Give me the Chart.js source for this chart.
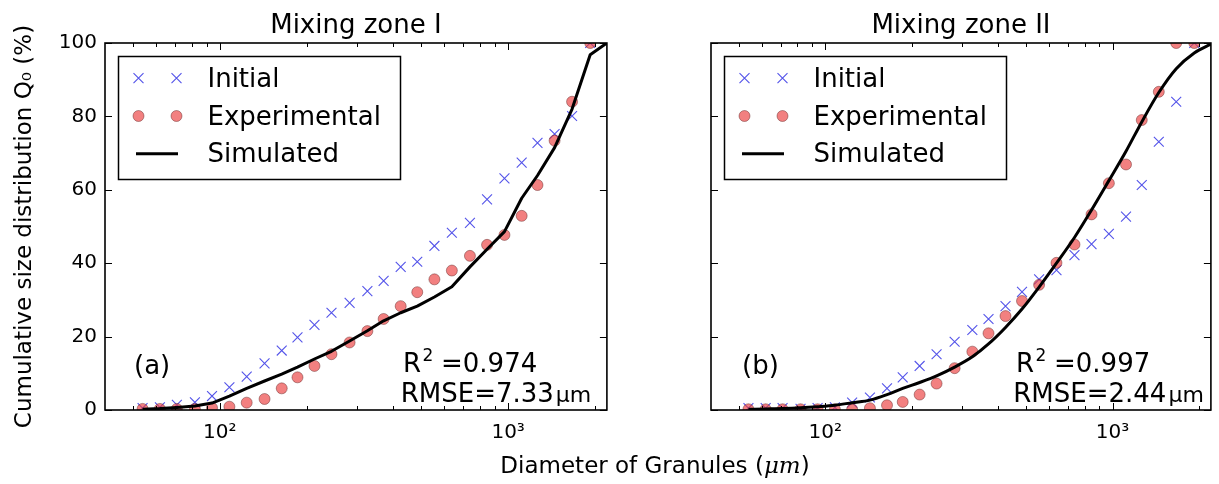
<!DOCTYPE html>
<html>
<head>
<meta charset="utf-8">
<script src="https://cdn.jsdelivr.net/npm/chart.js@4.4.1/dist/chart.umd.min.js"></script>
<style>
  html, body { margin: 0; padding: 0; background: #fff; }
  #wrap { position: relative; width: 1219px; height: 484px; overflow: hidden; background: #fff; }
  canvas { position: absolute; top: 0; }
  #c1 { left: 0; }
  #c2 { left: 606px; }
  #xtitle { position: absolute; left: 405px; width: 500px; top: 451px; text-align: center;
            font-family: "DejaVu Sans"; font-size: 23px; line-height: 28px; color: #000; }
  #xtitle i { font-family: "DejaVu Serif"; font-style: italic; }
</style>
</head>
<body>
<div id="wrap">
  <canvas id="c1" width="615" height="484"></canvas>
  <canvas id="c2" width="613" height="484"></canvas>
  <div id="xtitle">Diameter of Granules (<i>μm</i>)</div>
</div>
<script>
// ---------------- data ----------------
const diameters = [54, 62, 71, 82, 94, 108, 124, 143, 164, 186, 213, 244, 282, 325, 370, 424, 484, 555, 638, 737, 845, 971, 1114, 1264, 1449, 1666, 1925];
const simDiameters = [54, 62, 71, 82, 94, 108, 124, 143, 164, 186, 213, 244, 282, 325, 370, 424, 484, 555, 638, 737, 845, 971, 1114, 1264, 1449, 1666, 1925, 2200];

const zone1Initial      = [0.5, 0.7, 1.4, 2.1, 3.8, 6.2, 9.1, 12.7, 16.2, 19.8, 23.2, 26.5, 29.2, 32.4, 35.2, 39.0, 40.4, 44.7, 48.3, 51.0, 57.4, 63.1, 67.4, 72.8, 75.2, 80.1, 100];
const zone1Experimental = [0.3, 0.3, 0.3, 0.3, 0.6, 0.9, 2.0, 3.0, 5.9, 8.9, 12.0, 15.2, 18.4, 21.5, 24.8, 28.3, 32.1, 35.6, 38.0, 42.0, 45.0, 47.7, 52.9, 61.3, 73.4, 84.0, 100];
const zone1Simulated    = [0.2, 0.4, 0.7, 1.1, 1.9, 3.8, 5.9, 7.9, 9.8, 11.7, 13.9, 16.0, 18.8, 21.6, 24.3, 26.5, 28.3, 30.8, 33.6, 39.0, 43.8, 48.6, 57.7, 63.9, 71.5, 82.0, 96.8, 100];

const zone2Initial      = [0.5, 0.5, 0.5, 0.3, 0.5, 0.7, 2.0, 3.4, 5.9, 8.9, 12.0, 15.2, 18.6, 21.8, 24.8, 28.3, 32.2, 35.6, 38.1, 42.2, 45.2, 48.0, 52.7, 61.3, 73.1, 84.0, 100];
const zone2Experimental = [0.2, 0.2, 0.2, 0.2, 0.2, 0.2, 0.2, 0.5, 1.3, 2.2, 4.2, 7.2, 11.4, 15.9, 20.9, 25.6, 29.7, 34.1, 40.1, 45.1, 53.3, 61.8, 66.9, 79.0, 86.7, 100, 100];
const zone2Simulated    = [0.2, 0.3, 0.4, 0.6, 0.9, 1.3, 2.0, 2.7, 4.2, 5.9, 7.5, 9.3, 11.7, 14.5, 18.0, 22.5, 27.5, 33.5, 40.0, 47.0, 54.5, 62.5, 70.5, 78.5, 86.5, 93.0, 97.3, 99.7];

const xTickValues = [40, 50, 60, 70, 80, 90, 100, 200, 300, 400, 500, 600, 700, 800, 900, 1000, 2000];
const xMajorValues = [100, 1000];
const xMajorLabels = ['10²', '10³'];
const yTickValues = [0, 20, 40, 60, 80, 100];

const panelTitles = ['Mixing zone I', 'Mixing zone II'];
const panelTags = ['(a)', '(b)'];
const panelR2 = ['0.974', '0.997'];
const panelRMSE = ['7.33', '2.44'];
const legendLabels = ['Initial', 'Experimental', 'Simulated'];
const yTitle = 'Cumulative size distribution Q₀ (%)';

// ---------------- styles ----------------
const FONT = 'DejaVu Sans';
Chart.defaults.font.family = FONT;
const initColor = 'rgba(25,25,225,0.75)';
const expFill = 'rgba(235,60,60,0.65)';
const expEdge = 'rgba(90,30,30,0.55)';

function decorPlugin(idx, ann) {
  return {
    id: 'panelDecor' + idx,
    afterDatasetsDraw(chart) {
      const ctx = chart.ctx, a = chart.chartArea;
      const xs = chart.scales.x, ys = chart.scales.y;
      ctx.save();
      // inward tick marks
      ctx.strokeStyle = '#000';
      ctx.lineWidth = 1;
      ctx.beginPath();
      xs.ticks.forEach(t => {
        const px = Math.round(xs.getPixelForValue(t.value)) + 0.5;
        if (px <= a.left + 1 || px >= a.right - 1) return;
        const len = xMajorValues.includes(t.value) ? 7 : 4;
        ctx.moveTo(px, a.bottom); ctx.lineTo(px, a.bottom - len);
        ctx.moveTo(px, a.top); ctx.lineTo(px, a.top + len);
      });
      ys.ticks.forEach(t => {
        const py = Math.round(ys.getPixelForValue(t.value)) + 0.5;
        ctx.moveTo(a.left, py); ctx.lineTo(a.left + 7, py);
        ctx.moveTo(a.right, py); ctx.lineTo(a.right - 7, py);
      });
      ctx.stroke();
      // frame
      ctx.lineWidth = 1.6;
      ctx.strokeRect(a.left, a.top, a.right - a.left, a.bottom - a.top);
      // title
      ctx.fillStyle = '#000';
      ctx.font = '26px "' + FONT + '"';
      ctx.textAlign = 'center';
      ctx.textBaseline = 'alphabetic';
      ctx.fillText(panelTitles[idx], (a.left + a.right) / 2, 33);
      // legend
      const bx = a.left + 13.5, by = a.top + 13.5, bw = 282, bh = 123;
      ctx.fillStyle = '#fff';
      ctx.fillRect(bx, by, bw, bh);
      ctx.lineWidth = 1.5;
      ctx.strokeStyle = '#000';
      ctx.strokeRect(bx, by, bw, bh);
      const rows = [a.top + 43.7, a.top + 81.5, a.top + 119.3];
      const mx = [a.left + 33.5, a.left + 71.5];
      // initial markers
      ctx.strokeStyle = initColor; ctx.lineWidth = 1.1;
      mx.forEach(x => {
        const y = rows[0] - 8.5, h = 5;
        ctx.beginPath();
        ctx.moveTo(x - h, y - h); ctx.lineTo(x + h, y + h);
        ctx.moveTo(x - h, y + h); ctx.lineTo(x + h, y - h);
        ctx.stroke();
      });
      // experimental markers
      mx.forEach(x => {
        ctx.beginPath();
        ctx.arc(x, rows[1] - 8.5, 5.5, 0, Math.PI * 2);
        ctx.fillStyle = expFill; ctx.fill();
        ctx.strokeStyle = expEdge; ctx.lineWidth = 0.8; ctx.stroke();
      });
      // simulated line
      ctx.beginPath();
      ctx.strokeStyle = '#000'; ctx.lineWidth = 3;
      ctx.moveTo(a.left + 31, rows[2] - 8.5); ctx.lineTo(a.left + 73, rows[2] - 8.5);
      ctx.stroke();
      ctx.fillStyle = '#000';
      ctx.textAlign = 'left';
      ctx.font = '26px "' + FONT + '"';
      legendLabels.forEach((t, i) => ctx.fillText(t, a.left + 102.5, rows[i]));
      // annotations
      ctx.fillText(panelTags[idx], a.left + ann.tagX, a.top + 331);
      const rx = a.left + ann.rX, rb = a.top + 329;
      ctx.fillText('R', rx, rb);
      const rw = ctx.measureText('R').width;
      ctx.font = '17px "' + FONT + '"';
      ctx.fillText('2', rx + rw + 1.5, rb - 11);
      ctx.font = '26px "' + FONT + '"';
      ctx.fillText('=' + panelR2[idx], rx + 38, rb);
      const mxs = a.left + ann.mX, mb = a.top + 358.7;
      const s1 = 'RMSE=' + panelRMSE[idx];
      ctx.fillText(s1, mxs, mb);
      const w1 = ctx.measureText(s1).width;
      ctx.font = '22px "' + FONT + '"';
      ctx.fillText('μm', mxs + w1 + 2, mb);
      ctx.restore();
    }
  };
}

function buildChart(canvasId, idx, init, exp, sim, showY, padRight, smooth, ann) {
  const pts = (xsArr, ysArr) => xsArr.map((x, i) => ({ x: x, y: ysArr[i] }));
  const simSet = { label: legendLabels[2], data: pts(simDiameters, sim), showLine: true, borderColor: '#000',
                   borderWidth: 3, pointRadius: 0, tension: 0, borderJoinStyle: 'round', order: 0 };
  if (smooth) simSet.cubicInterpolationMode = 'monotone';
  return new Chart(document.getElementById(canvasId), {
    type: 'scatter',
    data: {
      datasets: [
        simSet,
        { label: legendLabels[1], data: pts(diameters, exp), showLine: false, pointStyle: 'circle',
          pointRadius: 5.5, backgroundColor: expFill, borderColor: expEdge, borderWidth: 0.8, order: 1 },
        { label: legendLabels[0], data: pts(diameters, init), showLine: false, pointStyle: 'crossRot',
          pointRadius: 7, borderColor: initColor, backgroundColor: initColor, borderWidth: 1.1, order: 2 }
      ]
    },
    options: {
      responsive: false,
      animation: false,
      events: [],
      devicePixelRatio: 1,
      layout: { padding: { left: 0, right: padRight, top: 43, bottom: 0 } },
      plugins: { legend: { display: false }, tooltip: { enabled: false }, title: { display: false } },
      scales: {
        x: {
          type: 'logarithmic', min: 40, max: 2200,
          grid: { display: false, drawTicks: false },
          border: { display: false },
          afterBuildTicks: s => { s.ticks = xTickValues.map(v => ({ value: v })); },
          afterFit: s => { s.height = 74; },
          ticks: {
            autoSkip: false, maxRotation: 0, minRotation: 0, padding: 11, color: '#000',
            font: { family: FONT, size: 20 },
            callback: v => { const k = xMajorValues.indexOf(v); return k >= 0 ? xMajorLabels[k] : ''; }
          }
        },
        y: {
          min: 0, max: 100,
          grid: { display: false, drawTicks: false },
          border: { display: false },
          afterBuildTicks: s => { s.ticks = yTickValues.map(v => ({ value: v })); },
          afterFit: s => { s.width = 105; },
          ticks: { display: showY, padding: 8, color: '#000', font: { family: FONT, size: 20 } },
          title: { display: showY, text: yTitle, color: '#000', font: { family: FONT, size: 23 },
                   padding: { top: 11, bottom: 0 } }
        }
      }
    },
    plugins: [decorPlugin(idx, ann)]
  });
}

buildChart('c1', 0, zone1Initial, zone1Experimental, zone1Simulated, true, 2, false, { tagX: 29, rX: 298, mX: 295.7 });
buildChart('c2', 1, zone2Initial, zone2Experimental, zone2Simulated, false, 1, true, { tagX: 31, rX: 305, mX: 302.3 });
</script>
</body>
</html>
